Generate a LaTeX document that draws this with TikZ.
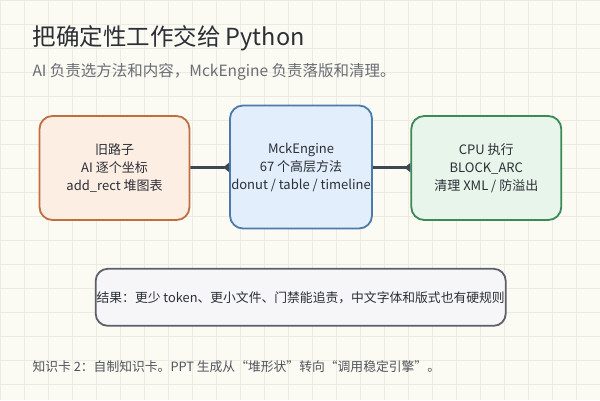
\documentclass[tikz,border=0pt]{standalone}
\usepackage{fontspec}
\setmainfont{Noto Sans CJK SC}
\usetikzlibrary{arrows.meta}
\definecolor{paper}{HTML}{FBFAF3}
\definecolor{gridc}{HTML}{ECEBE2}
\definecolor{ink}{HTML}{2B2F36}
\definecolor{subink}{HTML}{6A6E74}
\definecolor{footink}{HTML}{50545A}
\definecolor{linkc}{HTML}{3E4852}
\definecolor{oldfill}{HTML}{FDEEE4}
\definecolor{olddraw}{HTML}{C06E3E}
\definecolor{engfill}{HTML}{E2EEFB}
\definecolor{engdraw}{HTML}{4A7BAB}
\definecolor{cpufill}{HTML}{E7F5EA}
\definecolor{cpudraw}{HTML}{3A8A57}
\definecolor{resfill}{HTML}{F6F6F8}
\definecolor{resdraw}{HTML}{5B606A}
\begin{document}
\begin{tikzpicture}[x=1pt, y=-1pt, every node/.style={font=\fontsize{13}{18}\selectfont, text=ink},
  card/.style={draw,line width=1.8pt,rounded corners=13pt,inner xsep=0pt,minimum width=150pt,minimum height=104pt,align=center},
  link/.style={draw=linkc,line width=2.8pt,-{Triangle[reversed,length=6pt,width=9pt]}}]
  \useasboundingbox (0,0) rectangle (600,400);
  \fill[paper] (0,0) rectangle (600,400);
  \draw[gridc,line width=0.8pt,step=24pt] (0,0) grid (600,400);
  % title and subtitle
  \node[anchor=base west,font=\fontsize{23.5}{26}\selectfont] (title) at (29,45) {把确定性工作交给 Python};
  \node[anchor=base west,font=\fontsize{15.5}{17}\selectfont,text=subink] (sub) at (29,76) {AI 负责选方法和内容，MckEngine 负责落版和清理。};
  % the three stages
  \node[card,fill=oldfill,draw=olddraw] (old) at (114.5,168) {旧路子\\AI 逐个坐标\\add\_rect 堆图表};
  \node[card,fill=engfill,draw=engdraw,minimum width=142pt,minimum height=123pt] (engine) at (301,167) {MckEngine\\67 个高层方法\\donut / table / timeline};
  \node[card,fill=cpufill,draw=cpudraw] (cpu) at (486.3,168) {CPU 执行\\BLOCK\_ARC\\清理 XML / 防溢出};
  \draw[link] (old) -- (engine);
  \draw[link] (engine) -- (cpu);
  % result and footer
  \node[card,fill=resfill,draw=resdraw,minimum width=410pt,minimum height=57pt,rounded corners=12pt,font=\fontsize{12.8}{16}\selectfont] (result) at (300.7,297.3) {结果：更少 token、更小文件、门禁能追责，中文字体和版式也有硬规则};
  \node[anchor=base west,font=\fontsize{12.8}{14}\selectfont,text=footink] (foot) at (29,371) {知识卡 2：自制知识卡。PPT 生成从“堆形状”转向“调用稳定引擎”。};
\end{tikzpicture}
\end{document}
